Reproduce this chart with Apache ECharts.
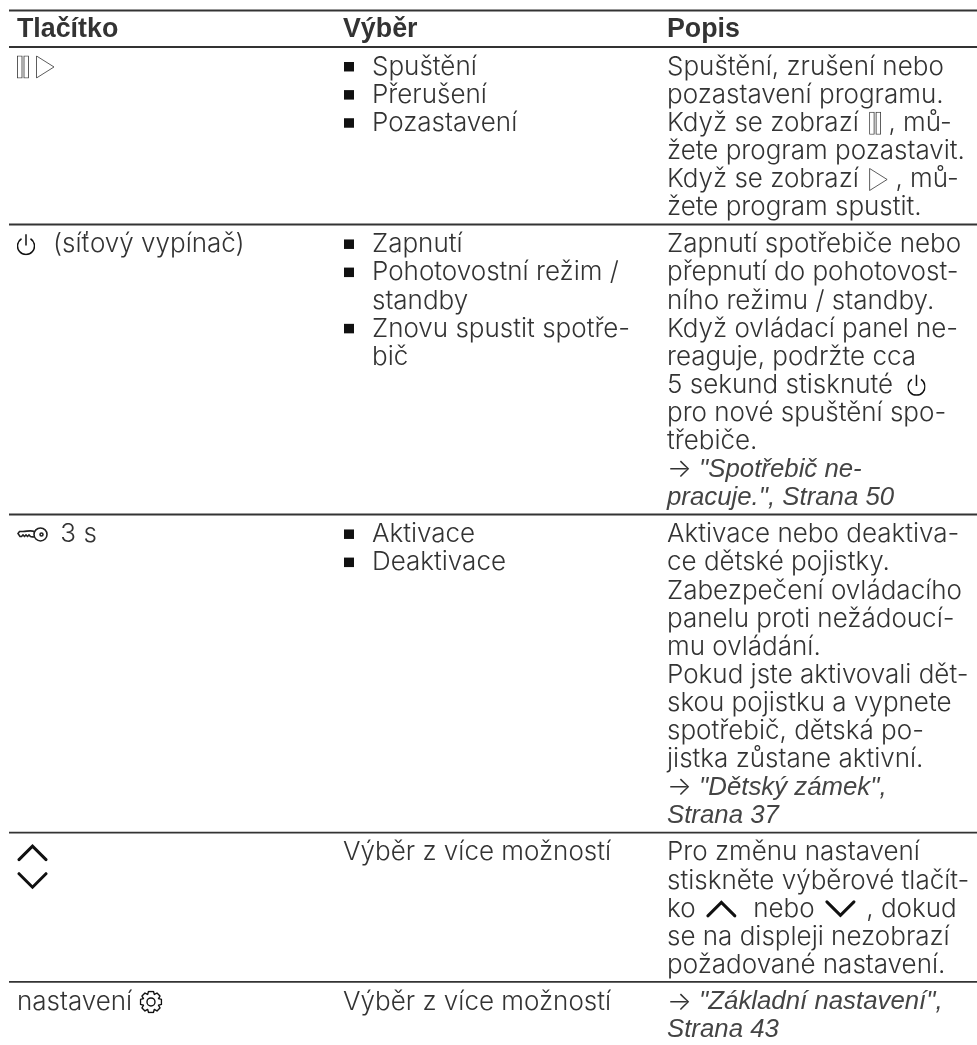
<!DOCTYPE html>
<html>
<head>
<meta charset="utf-8">
<style>html,body{margin:0;background:#fff}#chart{width:977px;height:1045px}</style>
<script src="https://cdn.jsdelivr.net/npm/echarts@6/dist/echarts.min.js"></script>
</head>
<body>
<div id="chart"></div>
<script>
// table text, one string per printed line. {name|} is an inline icon, {it|...} is italic
const headers = ['Tlačítko', 'Výběr', 'Popis']
const keyColumn = [
  ['{pause|}{gapM|}{play|}'],
  ['{power|}{gap|}{gap|}(síťový vypínač)'],
  ['{key|}{gapS|} 3 s'],
  ['{chevUp|}', '{chevDown|}'],
  ['nastavení {gear|}'],
]
// "* " starts a bullet, "  " continues the bullet text
const choiceColumn = [
  ['* Spuštění', '* Přerušení', '* Pozastavení'],
  ['* Zapnutí', '* Pohotovostní režim /', '  standby', '* Znovu spustit spotře-', '  bič'],
  ['* Aktivace', '* Deaktivace'],
  ['Výběr z více možností'],
  ['Výběr z více možností'],
]
const descColumn = [
  ['Spuštění, zrušení nebo', 'pozastavení programu.', 'Když se zobrazí {gapT|}{pause|} , mů-', 'žete program pozastavit.', 'Když se zobrazí {gapT|}{play|} , mů-', 'žete program spustit.'],
  ['Zapnutí spotřebiče nebo', 'přepnutí do pohotovost-', 'ního režimu / standby.', 'Když ovládací panel ne-', 'reaguje, podržte cca', '5 sekund stisknuté {gapM|}{power|}', 'pro nové spuštění spo-', 'třebiče.', '→ {it|"Spotřebič ne-}', '{it|pracuje.", Strana 50}'],
  ['Aktivace nebo deaktiva-', 'ce dětské pojistky.', 'Zabezpečení ovládacího', 'panelu proti nežádoucí-', 'mu ovládání.', 'Pokud jste aktivovali dět-', 'skou pojistku a vypnete', 'spotřebič, dětská po-', 'jistka zůstane aktivní.', '→ {it|"Dětský zámek",}', '{it|Strana 37}'],
  ['Pro změnu nastavení', 'stiskněte výběrové tlačít-', 'ko {gapT|}{chevUp|}{gap|} nebo {gapT|}{chevDown|}{gapT|} , dokud', 'se na displeji nezobrazí', 'požadované nastavení.'],
  ['→ {it|"Základní nastavení",}', '{it|Strana 43}'],
]
const columns = [keyColumn, choiceColumn, descColumn]

// layout: y axis counts text lines, x axis is pixels
const W = 977
const H = 1045
const lineH = 28.13
const ruleStart = 9
const textX = [17, 343, 667]
const bulletIndent = 29
const topLine = 10.5 / lineH
const headerLines = 36.5 / lineH
const rowPad = 8.7 / lineH
const textShift = 0.21
const fontSize = 26
const baseFont = 'Inter, "Liberation Sans", sans-serif'
const textColor = '#333333'
const ruleColor = '#333333'

const svg = (w, h, body) => {
  const s = `<svg xmlns="http://www.w3.org/2000/svg" width="${w}" height="${h}" viewBox="0 0 ${w} ${h}">${body}</svg>`
  return { image: 'data:image/svg+xml;charset=utf-8,' + encodeURIComponent(s) }
}
const outline = 'fill="none" stroke="#333" stroke-width="0.8"'
const icons = {
  pause: [12, 23, svg(12, 23, `<g ${outline}><rect x="0.5" y="0.5" width="4.5" height="22"/><rect x="7" y="0.5" width="4.5" height="22"/></g>`)],
  play: [19, 23, svg(19, 23, `<path ${outline} d="M0.5 0.5 L18 11.5 L0.5 22.5 Z"/>`)],
  power: [18, 22, svg(18, 22, '<g fill="none" stroke="#111" stroke-width="1.5"><path d="M4.5 5.3 A8.5 8.5 0 1 0 13.5 5.3"/><path d="M9 0.7 V12"/></g>')],
  key: [31, 16, svg(31, 16, '<g fill="none" stroke="#222" stroke-width="1.6"><circle cx="23.5" cy="8" r="6.5"/><circle cx="24.5" cy="8" r="1.5"/><path d="M17.5 5 C13 3.5 10 5 6 5 H2.5 L1 7 L3 10 H4.5 L6 8.5 L7.5 10 L9 8.5 L10.5 10 L12 8.5 L13.5 10 C15 10.5 16 10.5 17.5 10.5"/></g>')],
  chevUp: [31, 18, svg(31, 18, '<path fill="none" stroke="#111" stroke-width="3" stroke-linecap="round" d="M2 16 L15.5 2.5 L29 16"/>')],
  chevDown: [31, 18, svg(31, 18, '<path fill="none" stroke="#111" stroke-width="3" stroke-linecap="round" d="M2 2 L15.5 15.5 L29 2"/>')],
  gear: [23, 23, svg(23, 23, '<g fill="none" stroke="#111" stroke-width="1.4" stroke-linejoin="round"><circle cx="11.5" cy="11.5" r="4"/><path d="M9 1 H14 L14.8 4 L17.5 2.6 L20.5 5.6 L19 8.2 L22 9 V14 L19 14.8 L20.5 17.5 L17.5 20.5 L14.8 19 L14 22 H9 L8.2 19 L5.5 20.5 L2.5 17.5 L4 14.8 L1 14 V9 L4 8.2 L2.5 5.6 L5.5 2.6 L8.2 4 Z"/></g>')],
}
const rich = {
  it: { fontStyle: 'italic', fontSize: 25.8, fontFamily: '"Liberation Sans", sans-serif', fill: '#444444' },
  gap: { width: 9, height: 1 },
  gapM: { width: 7, height: 1 },
  gapS: { width: 5, height: 1 },
  gapT: { width: 3, height: 1 },
}
Object.keys(icons).forEach((k) => {
  rich[k] = { width: icons[k][0], height: icons[k][1], backgroundColor: icons[k][2] }
})

const chart = echarts.init(document.getElementById('chart'), null, { renderer: 'canvas' })

// row tops in line units, worked out from how many lines each row holds
const rowCount = keyColumn.length
const rowTops = [topLine + headerLines]
for (let r = 0; r < rowCount; r++) {
  const n = Math.max(...columns.map((c) => c[r].length))
  rowTops.push(rowTops[r] + n + rowPad)
}

const textEl = (api, x, line, str, font) => {
  const p = api.coord([x, line])
  return { type: 'text', style: { x: p[0], y: p[1], text: str, rich, font, fill: textColor, verticalAlign: 'middle', align: 'left' } }
}

const renderTable = (params, api) => {
  const kids = []
  const bodyFont = '300 ' + fontSize + 'px ' + baseFont
  // rules
  rowTops.slice(0, rowCount).concat([topLine]).forEach((v) => {
    const a = api.coord([ruleStart, v])
    const b = api.coord([W, v])
    kids.push({ type: 'line', shape: { x1: a[0], y1: a[1], x2: b[0], y2: b[1] }, style: { stroke: ruleColor, lineWidth: 1.8 } })
  })
  headers.forEach((h, c) => {
    kids.push(textEl(api, textX[c], topLine + headerLines / 2 + 0.04, h, 'bold 26.8px "Liberation Sans"'))
  })
  columns.forEach((col, c) => {
    col.forEach((lines, r) => {
      lines.forEach((str, i) => {
        const lineY = rowTops[r] + i + 0.5 + textShift
        if (str.startsWith('* ')) {
          const p = api.coord([textX[c] + 1, lineY])
          kids.push({ type: 'rect', shape: { x: p[0], y: p[1] - 5, width: 10, height: 9.5 }, style: { fill: '#111' } })
        }
        if (str.startsWith('* ') || str.startsWith('  ')) {
          kids.push(textEl(api, textX[c] + bulletIndent, lineY, str.slice(2), bodyFont))
        } else {
          kids.push(textEl(api, textX[c], lineY, str, bodyFont))
        }
      })
    })
  })
  return { type: 'group', children: kids }
}

chart.setOption({
  animation: false,
  grid: { left: 0, right: 0, top: 0, bottom: 0 },
  xAxis: { type: 'value', min: 0, max: W, show: false },
  yAxis: { type: 'value', min: 0, max: H / lineH, inverse: true, show: false },
  series: [{ type: 'custom', coordinateSystem: 'cartesian2d', renderItem: renderTable, data: [[0, 0]], silent: true, clip: false }],
})
</script>
</body>
</html>
